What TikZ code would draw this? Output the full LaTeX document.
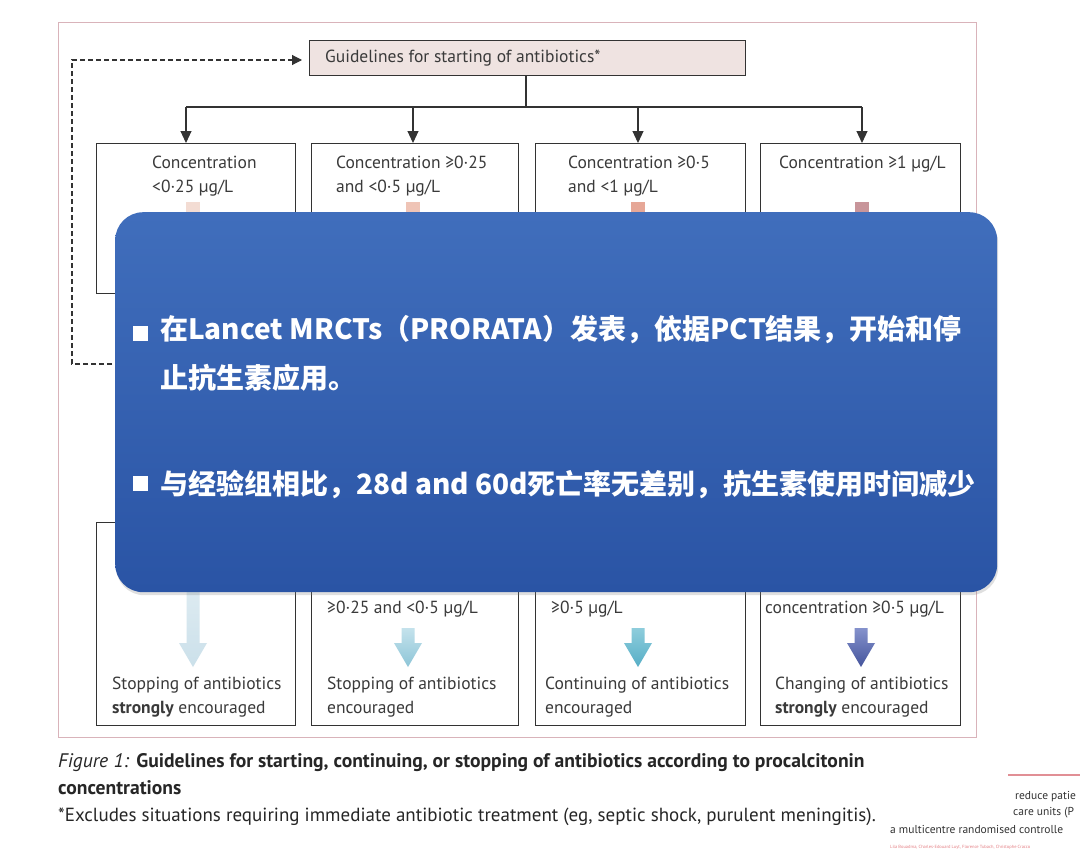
\documentclass[tikz,border=0pt]{standalone}
\usepackage{fontspec}
\setmainfont{PT Sans}
\newfontfamily\cjk{Noto Sans CJK SC}
\usetikzlibrary{arrows.meta,shadows}
\definecolor{frame}{HTML}{D9B3BA}
\definecolor{boxline}{HTML}{333333}
\definecolor{txt}{HTML}{3A3A3A}
\definecolor{topfill}{HTML}{EFE3E1}
\definecolor{panelA}{RGB}{64,110,188}
\definecolor{panelB}{RGB}{42,84,165}
\definecolor{stubA}{HTML}{F3DCD3}
\definecolor{stubB}{HTML}{EFC4B6}
\definecolor{stubC}{HTML}{E6A797}
\definecolor{stubD}{HTML}{C8959A}
\definecolor{upA}{HTML}{E4EFF4}
\definecolor{loA}{HTML}{CBE0EA}
\definecolor{upB}{HTML}{C4E2EC}
\definecolor{loB}{HTML}{8DC5D7}
\definecolor{upC}{HTML}{8ECDDC}
\definecolor{loC}{HTML}{56AEC6}
\definecolor{upD}{HTML}{8592CC}
\definecolor{loD}{HTML}{44549C}
\begin{document}
\begin{tikzpicture}[x=1pt,y=-1pt,
cbox/.style={draw=boxline,line width=1.1pt,anchor=north west,inner sep=0pt},
ctext/.style={anchor=north west,align=left,inner sep=0pt,text=txt,font=\fontsize{17.5}{24}\selectfont},
arr/.style={draw=boxline,line width=1.1pt,-{Triangle[width=11pt,length=12pt]}},
dashline/.style={draw=boxline,line width=1.1pt,dash pattern=on 5pt off 3pt},
bluepanel/.style={anchor=north west,rounded corners=28pt,top color=panelA,bottom color=panelB,
  drop shadow={shadow xshift=1pt,shadow yshift=-3pt,opacity=0.25}},
cntext/.style={anchor=west,align=left,inner sep=0pt,text=white,font=\cjk\bfseries\fontsize{28}{49}\selectfont},
bullet/.style={fill=white,minimum size=15pt,inner sep=0pt},
frag/.style={anchor=west,inner sep=0pt,text=black!80,font=\fontsize{11.5}{14}\selectfont}]
\useasboundingbox (0,0) rectangle (1080,854);
\fill[white] (0,0) rectangle (1080,854);
\draw[frame,line width=1pt] (58,22) rectangle (976,737);

\node[cbox,fill=topfill,minimum width=436pt,minimum height=35pt] (top) at (309,40) {};
\node[ctext,anchor=west] (toptxt) at (325,58) {Guidelines for starting of antibiotics*};

\node[cbox,minimum width=199pt,minimum height=150pt] (c1) at (96,143) {};
\node[cbox,minimum width=207pt,minimum height=150pt] (c2) at (311,143) {};
\node[cbox,minimum width=210pt,minimum height=150pt] (c3) at (535,143) {};
\node[cbox,minimum width=200pt,minimum height=150pt] (c4) at (760,143) {};
\node[ctext] (t1) at (152,156) {Concentration\\<0·25 µg/L};
\node[ctext] (t2) at (336,156) {Concentration ≥0·25\\and <0·5 µg/L};
\node[ctext] (t3) at (568,156) {Concentration ≥0·5\\and <1 µg/L};
\node[ctext] (t4) at (779,156) {Concentration ≥1 µg/L};

\coordinate (split) at (526,107);
\coordinate (a1) at (186,107);
\coordinate (a2) at (413,107);
\coordinate (a3) at (638,107);
\coordinate (a4) at (862,107);
\draw[boxline,line width=1.1pt] (top.south -| split) -- (split);
\draw[boxline,line width=1.1pt] (a1) -- (a4);
\draw[arr] (a1) -- (a1 |- c1.north);
\draw[arr] (a2) -- (a2 |- c2.north);
\draw[arr] (a3) -- (a3 |- c3.north);
\draw[arr] (a4) -- (a4 |- c4.north);

\coordinate (back) at (200,364);
\draw[dashline,-{Triangle[width=10pt,length=10pt]},shorten >=7pt] (back) -- (72,364) -- (72,60) -- (top.west |- 0,60);

\fill[stubA] (186,202) rectangle (200,240);
\fill[stubB] (406,202) rectangle (420,240);
\fill[stubC] (631,202) rectangle (645,240);
\fill[stubD] (855,202) rectangle (869,240);

\node[cbox,minimum width=199pt,minimum height=203pt] (d1) at (96,522) {};
\node[cbox,minimum width=207pt,minimum height=203pt] (d2) at (311,522) {};
\node[cbox,minimum width=210pt,minimum height=203pt] (d3) at (535,522) {};
\node[cbox,minimum width=200pt,minimum height=203pt] (d4) at (760,522) {};
\node[ctext,anchor=west] (m2) at (327,609) {≥0·25 and <0·5 µg/L};
\node[ctext,anchor=west] (m3) at (551,609) {≥0·5 µg/L};
\node[ctext,anchor=west] (m4) at (765,609) {concentration ≥0·5 µg/L};

\foreach \x/\y/\cu/\cl in {193/560/upA/loA,408/628/upB/loB,638/628/upC/loC,861/628/upD/loD}
  \shade[top color=\cu,bottom color=\cl] (\x-6.5,\y) -- (\x+6.5,\y) -- (\x+6.5,643) -- (\x+14,643)
    -- (\x,667) -- (\x-14,643) -- (\x-6.5,643) -- cycle;

\node[ctext] (e1) at (112,677) {Stopping of antibiotics\\\textbf{strongly} encouraged};
\node[ctext] (e2) at (327,677) {Stopping of antibiotics\\encouraged};
\node[ctext] (e3) at (545,677) {Continuing of antibiotics\\encouraged};
\node[ctext] (e4) at (775,677) {Changing of antibiotics\\\textbf{strongly} encouraged};

\node[bluepanel,minimum width=882pt,minimum height=380pt] (panel) at (115,212) {};
\node[bullet] (b1) at (140,333) {};
\node[bullet] (b2) at (140,483) {};
\node[cntext,anchor=north west] (p1) at (160,315) {在Lancet MRCTs（PRORATA）发表，依据PCT结果，开始和停\\止抗生素应用。};
\node[cntext] (p2) at (160,484) {与经验组相比，28d and 60d死亡率无差别，抗生素使用时间减少};

\node[anchor=north west,align=left,inner sep=0pt,text=black!85,font=\fontsize{19}{27}\selectfont] (cap) at (58,753)
  {{\fontsize{19.6}{27}\selectfont\textit{Figure 1:} \textbf{Guidelines for starting, continuing, or stopping of antibiotics according to procalcitonin}}\\
   {\fontsize{19.6}{27}\selectfont\textbf{concentrations}}\\
   *Excludes situations requiring immediate antibiotic treatment (eg, septic shock, purulent meningitis).};

\draw[frame!80!red,line width=1.2pt] (1008,775) -- (1080,775);
\node[frag] (r1) at (1015,797) {reduce patie};
\node[frag] (r2) at (1013,813) {care units (P};
\node[frag] (r3) at (890,829) {a multicentre randomised controlle};
\node[anchor=west,inner sep=0pt,text=frame!70!red,font=\fontsize{4.5}{6}\selectfont] (r4) at (890,847) {Lila Bouadma, Charles-Edouard Luyt, Florence Tubach, Christophe Cracco};
\end{tikzpicture}
\end{document}
